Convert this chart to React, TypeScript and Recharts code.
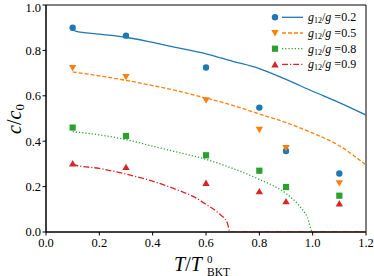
import React from "react";
import {
  ComposedChart,
  Line,
  Scatter,
  XAxis,
  YAxis,
  ReferenceArea
} from "recharts";

// measured points (markers)
const temps = [0.1, 0.3, 0.6, 0.8, 0.9, 1.1];
const dots02 = [0.9, 0.865, 0.725, 0.548, 0.357, 0.258];
const dots05 = [0.723, 0.683, 0.58, 0.45, 0.37, 0.215];
const dots08 = [0.46, 0.423, 0.338, 0.27, 0.198, 0.16];
const dots09 = [0.302, 0.286, 0.216, 0.179, 0.135, 0.126];

// theory curves
const curveT02 = [0.1, 0.11, 0.2, 0.3, 0.4, 0.5, 0.6, 0.7, 0.8, 0.9, 1.0, 1.1, 1.2];
const curve02 = [0.895, 0.885, 0.872, 0.858, 0.835, 0.81, 0.785, 0.752, 0.72, 0.672, 0.62, 0.57, 0.515];
const curveT05 = [0.1, 0.2, 0.3, 0.4, 0.5, 0.6, 0.7, 0.8, 0.9, 1.0, 1.1, 1.2];
const curve05 = [0.705, 0.688, 0.668, 0.645, 0.62, 0.59, 0.558, 0.52, 0.482, 0.436, 0.38, 0.295];
const curveT08 = [0.1, 0.2, 0.3, 0.4, 0.5, 0.6, 0.7, 0.8, 0.85, 0.9, 0.95, 0.98, 1.0, 1.2];
const curve08 = [0.442, 0.428, 0.407, 0.378, 0.35, 0.32, 0.28, 0.232, 0.205, 0.17, 0.115, 0.065, 0, 0];
const curveT09 = [0.1, 0.11, 0.2, 0.3, 0.4, 0.5, 0.55, 0.6, 0.65, 0.68, 0.69, 1.2];
const curve09 = [0.302, 0.295, 0.28, 0.255, 0.224, 0.182, 0.158, 0.122, 0.08, 0.04, 0, 0];

const xTicks = [0, 0.2, 0.4, 0.6, 0.8, 1.0, 1.2];
const yTicks = [0, 0.2, 0.4, 0.6, 0.8, 1.0];
const ratios = ["0.2", "0.5", "0.8", "0.9"];

const BLUE = "#1f77b4";
const ORANGE = "#ff7f0e";
const GREEN = "#2ca02c";
const RED = "#d62728";
const FONT = "'Liberation Serif', serif";

const toPts = (xs: number[], ys: number[]) => xs.map((t, i) => ({ t, v: ys[i] }));

const Dot = (p: any) => <circle cx={p.cx} cy={p.cy} r={3.2} fill={BLUE} />;
const TriDown = (p: any) => (
  <polygon
    points={`${p.cx - 3.7},${p.cy - 3} ${p.cx + 3.7},${p.cy - 3} ${p.cx},${p.cy + 3.4}`}
    fill={ORANGE}
  />
);
const Square = (p: any) => (
  <rect x={p.cx - 3.1} y={p.cy - 3.1} width={6.2} height={6.2} fill={GREEN} />
);
const TriUp = (p: any) => (
  <polygon
    points={`${p.cx - 3.7},${p.cy + 3} ${p.cx + 3.7},${p.cy + 3} ${p.cx},${p.cy - 3.4}`}
    fill={RED}
  />
);

const series = [
  { dots: dots02, t: curveT02, c: curve02, color: BLUE, dash: undefined, shape: Dot },
  { dots: dots05, t: curveT05, c: curve05, color: ORANGE, dash: "4 2", shape: TriDown },
  { dots: dots08, t: curveT08, c: curve08, color: GREEN, dash: "1.2 2", shape: Square },
  { dots: dots09, t: curveT09, c: curve09, color: RED, dash: "6 2 1.2 2", shape: TriUp }
];

const fmt = (v: number) => v.toFixed(1);

function Overlay() {
  return (
    <svg
      width={374}
      height={276}
      style={{ position: "absolute", left: 0, top: 0, pointerEvents: "none" }}
      fontFamily={FONT}
    >
      {series.map((s, i) => {
        const cy = 17.3 + i * 15.7;
        const Shape = s.shape;
        return (
          <g key={i}>
            <Shape cx={275} cy={cy} />
            <line
              x1={282}
              x2={303}
              y1={cy}
              y2={cy}
              stroke={s.color}
              strokeWidth={1.3}
              strokeDasharray={s.dash}
            />
            <text x={308} y={cy + 4} fontSize={12} fill="#000">
              <tspan fontStyle="italic">g</tspan>
              <tspan fontSize={8} dy={2}>12</tspan>
              <tspan dy={-2}>/</tspan>
              <tspan fontStyle="italic">g</tspan>
              <tspan> =</tspan>
              <tspan>{ratios[i]}</tspan>
            </text>
          </g>
        );
      })}
      <text
        transform="translate(21,119) rotate(-90)"
        textAnchor="middle"
        fontSize={20}
        fill="#000"
      >
        <tspan fontStyle="italic">c</tspan>
        <tspan>/</tspan>
        <tspan fontStyle="italic">c</tspan>
        <tspan fontSize={13} dy={3}>0</tspan>
      </text>
      <text x={174} y={271} fontSize={20} fill="#000">
        <tspan fontStyle="italic">T</tspan>
        <tspan>/</tspan>
        <tspan fontStyle="italic">T</tspan>
      </text>
      <text x={207} y={262.5} fontSize={11} fill="#000">0</text>
      <text x={207} y={275.5} fontSize={11.5} fill="#000">BKT</text>
    </svg>
  );
}

export default function App() {
  return (
    <div style={{ position: "absolute", left: 0, top: 0, width: 374, height: 276, background: "#fff" }}>
      <ComposedChart
        width={374}
        height={276}
        margin={{ top: 5, right: 8, bottom: 0, left: 0 }}
      >
        <XAxis
          type="number"
          dataKey="t"
          domain={[0, 1.2]}
          ticks={xTicks}
          tickFormatter={fmt}
          height={44}
          tickSize={3.5}
          tickMargin={3}
          axisLine={{ stroke: "#000" }}
          tickLine={{ stroke: "#000" }}
          tick={{ fill: "#000", fontSize: 12.5, fontFamily: FONT }}
          allowDataOverflow
        />
        <YAxis
          type="number"
          dataKey="v"
          domain={[0, 1]}
          ticks={yTicks}
          tickFormatter={fmt}
          width={46}
          tickSize={3.5}
          tickMargin={1.5}
          axisLine={{ stroke: "#000" }}
          tickLine={{ stroke: "#000" }}
          tick={{ fill: "#000", fontSize: 12.5, fontFamily: FONT }}
          allowDataOverflow
        />
        <ReferenceArea x1={0} x2={1.2} y1={0} y2={1} fill="none" stroke="#000" strokeWidth={1} />
        {series.map((s, i) => (
          <Line
            key={"l" + i}
            data={toPts(s.t, s.c)}
            dataKey="v"
            type="monotone"
            stroke={s.color}
            strokeWidth={1.3}
            strokeDasharray={s.dash}
            dot={false}
            activeDot={false}
            isAnimationActive={false}
          />
        ))}
        {series.map((s, i) => (
          <Scatter
            key={"s" + i}
            data={toPts(temps, s.dots)}
            dataKey="v"
            shape={s.shape}
            isAnimationActive={false}
          />
        ))}
      </ComposedChart>
      <Overlay />
    </div>
  );
}
